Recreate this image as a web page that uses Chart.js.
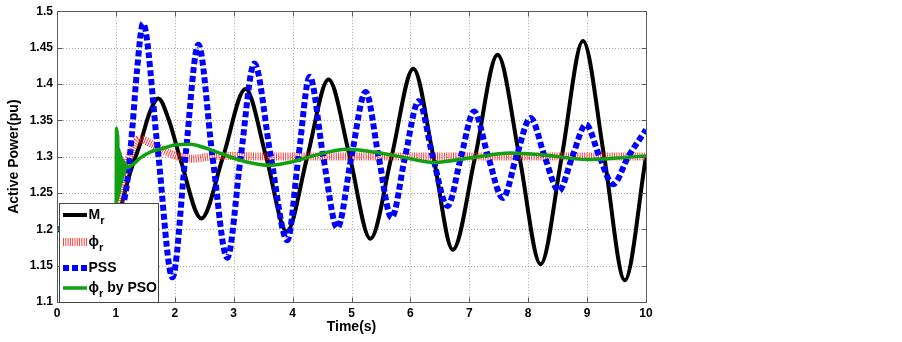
<!DOCTYPE html>
<html><head><meta charset="utf-8">
<script src="https://cdn.jsdelivr.net/npm/chart.js@4"></script>
<style>html,body{margin:0;padding:0;background:#fff}#wrap{width:902px;height:342px;position:relative}</style>
</head><body><div id="wrap"><canvas id="c" width="902" height="342"></canvas></div>
<script>
// ---- data ----
const xTicks = [0,1,2,3,4,5,6,7,8,9,10];
const xTickLabels = ['0','1','2','3','4','5','6','7','8','9','10'];
const yTicks = [1.1,1.15,1.2,1.25,1.3,1.35,1.4,1.45,1.5];
const yTickLabels = ['1.1','1.15','1.2','1.25','1.3','1.35','1.4','1.45','1.5'];

const mrTime  = [0,1.0,1.1,1.25,1.41,1.58,1.72,1.9,2.1,2.45,2.82,3.2,3.55,3.9,4.25,4.61,4.97,5.32,5.68,6.05,6.39,6.72,7.1,7.48,7.85,8.21,8.57,8.93,9.29,9.64,10.0];
const mrValue = [1.2,1.2,1.235,1.28,1.317,1.362,1.38,1.35,1.295,1.215,1.30,1.393,1.30,1.197,1.30,1.406,1.30,1.187,1.30,1.421,1.30,1.172,1.30,1.44,1.30,1.152,1.30,1.459,1.30,1.13,1.30];

const phiTime  = [0,1.0,1.07,1.15,1.25,1.41,1.6,1.85,2.06,2.3,2.6,3.0,3.5,10.0];
const phiValue = [1.2,1.2,1.232,1.275,1.305,1.324,1.318,1.307,1.300,1.297,1.300,1.301,1.300,1.300];

const pssTime  = [0,1.0,1.1,1.2,1.28,1.36,1.46,1.71,1.96,2.18,2.40,2.64,2.89,3.12,3.35,3.63,3.91,4.10,4.29,4.52,4.76,5.00,5.24,5.46,5.68,5.91,6.14,6.38,6.63,6.86,7.08,7.32,7.57,7.80,8.04,8.28,8.52,8.75,8.98,9.21,9.44,9.70,10.0];
const pssValue = [1.2,1.2,1.225,1.27,1.34,1.42,1.483,1.31,1.134,1.30,1.454,1.30,1.161,1.30,1.428,1.30,1.185,1.30,1.41,1.30,1.202,1.30,1.389,1.30,1.216,1.30,1.376,1.30,1.232,1.30,1.362,1.30,1.243,1.30,1.353,1.30,1.253,1.30,1.344,1.30,1.262,1.30,1.337];

const psoTime  = [0,1.0,1.005,1.01,1.015,1.02,1.025,1.03,1.04,1.05,1.06,1.07,1.08,1.09,1.10,1.12,1.14,1.16,1.19,1.3,1.41,1.6,1.75,2.0,2.26,2.55,2.82,3.2,3.62,4.0,4.3,4.93,5.4,5.83,6.4,7.0,7.7,8.3,9.0,9.5,10.0];
const psoValue = [1.2,1.2,1.235,1.339,1.24,1.336,1.24,1.33,1.245,1.31,1.25,1.305,1.26,1.30,1.265,1.295,1.275,1.29,1.285,1.29,1.298,1.307,1.31,1.316,1.317,1.311,1.303,1.293,1.288,1.293,1.300,1.310,1.306,1.300,1.292,1.298,1.305,1.302,1.296,1.298,1.301];

const pts = (t, v) => t.map((x, i) => ({x, y: v[i]}));

// ---- plugins: grid, box, inner ticks, legend ----
const frame = {
  id: 'frame',
  beforeDatasetsDraw(chart) {
    const {ctx, chartArea: a, scales: {x, y}} = chart;
    ctx.save();
    ctx.strokeStyle = '#a8a8a8';
    ctx.lineWidth = 1;
    ctx.setLineDash([1, 2]);
    xTicks.forEach(v => {
      const px = Math.round(x.getPixelForValue(v)) + 0.5;
      ctx.beginPath(); ctx.moveTo(px, a.top); ctx.lineTo(px, a.bottom); ctx.stroke();
    });
    yTicks.forEach(v => {
      const py = Math.round(y.getPixelForValue(v)) + 0.5;
      ctx.beginPath(); ctx.moveTo(a.left, py); ctx.lineTo(a.right, py); ctx.stroke();
    });
    ctx.restore();
  },
  afterDatasetsDraw(chart) {
    const {ctx, chartArea: a, scales: {x, y}} = chart;
    ctx.save();
    ctx.setLineDash([]);
    ctx.strokeStyle = '#5a5a5a';
    ctx.lineWidth = 1;
    const L = Math.round(a.left) + 0.5, R = Math.round(a.right) + 0.5, T = Math.round(a.top) + 0.5, B = Math.round(a.bottom) + 0.5;
    ctx.strokeRect(L, T, R - L, B - T);
    const tl = 5;
    xTicks.forEach(v => {
      const px = Math.round(x.getPixelForValue(v)) + 0.5;
      ctx.beginPath(); ctx.moveTo(px, B); ctx.lineTo(px, B - tl); ctx.moveTo(px, T); ctx.lineTo(px, T + tl); ctx.stroke();
    });
    yTicks.forEach(v => {
      const py = Math.round(y.getPixelForValue(v)) + 0.5;
      ctx.beginPath(); ctx.moveTo(L, py); ctx.lineTo(L + tl, py); ctx.moveTo(R, py); ctx.lineTo(R - tl, py); ctx.stroke();
    });

    // legend
    const bx = 59.5, by = 203.5, bw = 99, bh = B - by;
    ctx.fillStyle = '#fff';
    ctx.fillRect(bx, by, bw, bh);
    ctx.strokeStyle = '#444';
    ctx.strokeRect(bx, by, bw, bh);
    const rows = chart.data.datasets.map(d => d);
    const rowY = [215, 242, 268, 288];
    const mainFont = 'bold 14px "Liberation Sans", Arial, sans-serif';
    const subFont = 'bold 11px "Liberation Sans", Arial, sans-serif';
    rows.forEach((d, i) => {
      const yy = rowY[i];
      ctx.save();
      ctx.strokeStyle = d.borderColor;
      ctx.lineWidth = d.borderWidth;
      ctx.lineCap = 'butt';
      ctx.setLineDash(d.borderDash || []);
      ctx.beginPath(); ctx.moveTo(63, yy); ctx.lineTo(87, yy); ctx.stroke();
      ctx.restore();
      ctx.fillStyle = '#000';
      ctx.textBaseline = 'middle';
      let tx = 88.5;
      const parts = d.legendParts;
      parts.forEach(p => {
        if (p.sub) {
          ctx.font = subFont;
          ctx.fillText(p.t, tx, yy + 6);
          tx += ctx.measureText(p.t).width;
        } else {
          ctx.font = mainFont;
          ctx.fillText(p.t, tx, yy);
          tx += ctx.measureText(p.t).width;
        }
      });
    });
    ctx.restore();
  }
};

const tickFont = {family: '"Liberation Sans", Arial, sans-serif', size: 12, weight: 'bold'};
const titleFont = {family: '"Liberation Sans", Arial, sans-serif', size: 14, weight: 'bold'};

new Chart(document.getElementById('c'), {
  type: 'line',
  data: {
    datasets: [
      {label: 'M_r', data: pts(mrTime, mrValue), borderColor: '#000000', borderWidth: 4, order: 3,
       legendParts: [{t: 'M'}, {t: 'r', sub: true}]},
      {label: 'phi_r', data: pts(phiTime, phiValue), borderColor: 'rgba(255,30,30,0.85)', borderWidth: 8, borderDash: [1, 1.3], order: 2,
       legendParts: [{t: 'ϕ'}, {t: 'r', sub: true}]},
      {label: 'PSS', data: pts(pssTime, pssValue), borderColor: '#0000ff', borderWidth: 6, borderDash: [6, 3], order: 1,
       legendParts: [{t: 'PSS'}]},
      {label: 'phi_r by PSO', data: pts(psoTime, psoValue), borderColor: '#11a011', borderWidth: 3.5, order: 0,
       legendParts: [{t: 'ϕ'}, {t: 'r', sub: true}, {t: ' by PSO'}]}
    ]
  },
  options: {
    responsive: false,
    animation: false,
    devicePixelRatio: 1,
    layout: {padding: {left: 0, right: 256, top: 9, bottom: 0}},
    elements: {
      point: {radius: 0},
      line: {cubicInterpolationMode: 'monotone', borderCapStyle: 'butt', borderJoinStyle: 'round', fill: false}
    },
    plugins: {legend: {display: false}, tooltip: {enabled: false}},
    scales: {
      x: {
        type: 'linear', min: 0, max: 10,
        afterBuildTicks: s => { s.ticks = xTicks.map(v => ({value: v})); },
        afterFit: s => { s.height = 40; },
        grid: {display: false, drawTicks: false},
        border: {display: false},
        ticks: {font: tickFont, color: '#000', padding: 4, maxRotation: 0,
                callback: (v, i) => xTickLabels[i]},
        title: {display: true, text: 'Time(s)', font: titleFont, color: '#000', padding: {top: 0, bottom: 6}}
      },
      y: {
        type: 'linear', min: 1.1, max: 1.5,
        afterBuildTicks: s => { s.ticks = yTicks.map(v => ({value: v})); },
        afterFit: s => { s.width = 57; },
        grid: {display: false, drawTicks: false},
        border: {display: false},
        ticks: {font: tickFont, color: '#000', padding: 4,
                callback: (v, i) => yTickLabels[i]},
        title: {display: true, text: 'Active Power(pu)', font: titleFont, color: '#000', padding: {top: 6, bottom: 0}}
      }
    }
  },
  plugins: [frame]
});
</script>
</body></html>
